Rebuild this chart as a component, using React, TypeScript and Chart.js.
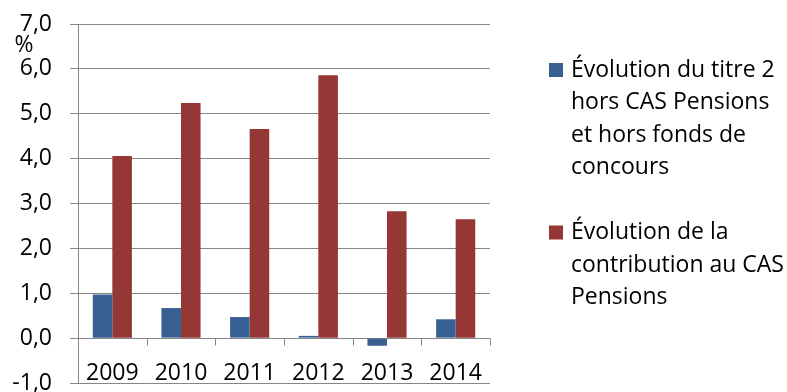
import React, { useEffect, useRef } from 'react';
import { Chart, registerables } from 'chart.js';

Chart.register(...registerables);

const YEARS = ['2009', '2010', '2011', '2012', '2013', '2014'];
const TITRE2 = [0.97, 0.67, 0.47, 0.05, -0.17, 0.42];
const CAS = [4.06, 5.24, 4.66, 5.86, 2.83, 2.65];
const SERIES_NAMES = [
  'Évolution du titre 2\nhors CAS Pensions\net hors fonds de\nconcours',
  'Évolution de la\ncontribution au CAS\nPensions',
];
const SERIES_COLORS = ['#386092', '#953735'];
const Y_MIN = -1;
const Y_MAX = 7;
const Y_STEP = 1;
const UNIT_LABEL = '%';

const FONT = '"Open Sans", "DejaVu Sans", sans-serif';
const FONT_SIZE = 23;
const GRID = '#868686';

const customDraw = {
  id: 'customDraw',
  afterDraw(chart: any) {
    const { ctx, scales } = chart;
    const x = scales.x;
    const y = scales.y;
    ctx.save();
    const y0 = Math.round(y.getPixelForValue(0)) + 0.5;
    const p0 = x.getPixelForValue(0);
    const p1 = x.getPixelForValue(1);
    const w = p1 - p0;
    ctx.strokeStyle = GRID;
    ctx.lineWidth = 1;
    ctx.beginPath();
    for (let i = 0; i < YEARS.length; i++) {
      const bx = Math.round(x.getPixelForValue(i) + w / 2) + 0.5;
      ctx.moveTo(bx, y0);
      ctx.lineTo(bx, y0 + 7);
    }
    ctx.stroke();
    ctx.fillStyle = '#000';
    ctx.font = `${FONT_SIZE}px ${FONT}`;
    ctx.textAlign = 'center';
    ctx.textBaseline = 'middle';
    const ly = y.getPixelForValue(Y_MIN) - 10;
    YEARS.forEach((lab, i) => {
      ctx.fillText(lab, x.getPixelForValue(i), ly);
    });
    ctx.fillText(UNIT_LABEL, 24, 45);
    ctx.textAlign = 'left';
    const lineH = 32.5;
    let cy = 70;
    const sqX = chart.chartArea.right + 59;
    const txX = sqX + 22;
    chart.data.datasets.forEach((ds: any) => {
      const lines = String(ds.label).split('\n');
      ctx.fillStyle = ds.backgroundColor;
      ctx.fillRect(sqX, cy - 7, 14, 14);
      ctx.fillStyle = '#000';
      lines.forEach((ln: string, li: number) => {
        ctx.fillText(ln, txX, cy + li * lineH);
      });
      cy += (lines.length + 1) * lineH;
    });
    ctx.restore();
  },
};

export default function App() {
  const ref = useRef<HTMLCanvasElement | null>(null);
  useEffect(() => {
    document.body.style.margin = '0';
    const canvas = ref.current;
    if (!canvas) return;
    const chart = new Chart(canvas, {
      type: 'bar',
      data: {
        labels: YEARS,
        datasets: [
          { label: SERIES_NAMES[0], data: TITRE2, backgroundColor: SERIES_COLORS[0], borderWidth: 0 },
          { label: SERIES_NAMES[1], data: CAS, backgroundColor: SERIES_COLORS[1], borderWidth: 0 },
        ],
      },
      options: {
        responsive: false,
        animation: false,
        devicePixelRatio: 1,
        layout: { padding: { left: 0, top: 24, right: 297, bottom: 9 } },
        plugins: { legend: { display: false }, tooltip: { enabled: false } },
        datasets: { bar: { categoryPercentage: 0.57, barPercentage: 1 } },
        scales: {
          x: { display: false, offset: true },
          y: {
            min: Y_MIN,
            max: Y_MAX,
            ticks: {
              stepSize: Y_STEP,
              color: '#000',
              padding: 18,
              font: { family: FONT, size: FONT_SIZE },
              callback: (v: any) => Number(v).toFixed(1).replace('.', ','),
            },
            grid: { color: GRID, tickLength: 8, lineWidth: 1 },
            border: { display: true, color: GRID },
            afterFit: (s: any) => {
              s.width = 78;
              s.paddingTop = 0;
              s.paddingBottom = 0;
            },
          },
        },
      },
      plugins: [customDraw],
    } as any);
    return () => chart.destroy();
  }, []);
  return <canvas ref={ref} width={787} height={392} style={{ display: 'block' }} />;
}
